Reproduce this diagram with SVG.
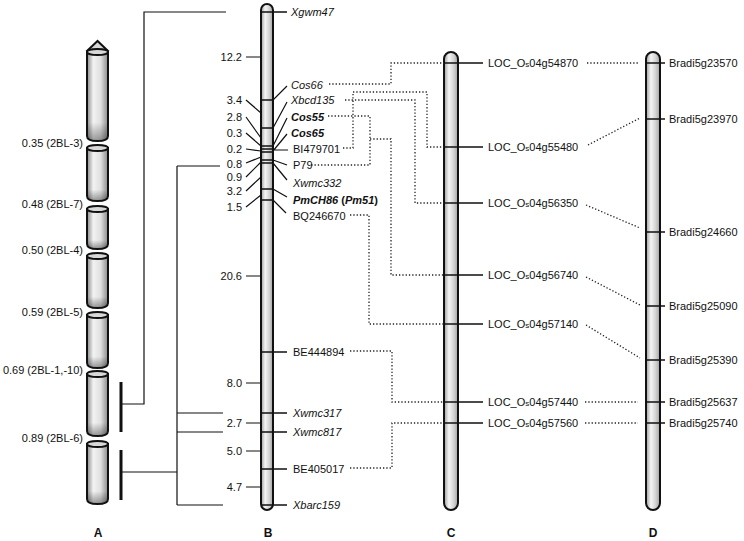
<svg xmlns="http://www.w3.org/2000/svg" width="744" height="541" viewBox="0 0 744 541">
<defs>
<linearGradient id="gB" x1="0" y1="0" x2="1" y2="0">
<stop offset="0" stop-color="#9c9c9c"/><stop offset="0.35" stop-color="#f5f5f5"/><stop offset="0.7" stop-color="#d2d2d2"/><stop offset="1" stop-color="#a0a0a0"/>
</linearGradient>
<linearGradient id="gA" x1="0" y1="0" x2="1" y2="0">
<stop offset="0" stop-color="#8a8a8a"/><stop offset="0.3" stop-color="#f2f2f2"/><stop offset="0.65" stop-color="#e0e0e0"/><stop offset="1" stop-color="#8a8a8a"/>
</linearGradient>
<linearGradient id="gAv" x1="0" y1="0" x2="0" y2="1">
<stop offset="0" stop-color="#000" stop-opacity="0"/><stop offset="0.8" stop-color="#000" stop-opacity="0"/><stop offset="1" stop-color="#000" stop-opacity="0.35"/>
</linearGradient>
</defs>
<style>
text{font-family:"Liberation Sans",Arial,sans-serif;font-size:11px;fill:#111}
.it{font-style:italic}
.bi{font-style:italic;font-weight:bold}
.r{text-anchor:end}
.c{text-anchor:middle}
.ttl{font-weight:bold;font-size:12px;text-anchor:middle}
.chr{fill:url(#gB);stroke:#111;stroke-width:2}
.seg{fill:url(#gA);stroke:#111;stroke-width:2}
.top{fill:#d8d8d8;stroke:#111;stroke-width:2}
.sh{fill:url(#gAv);stroke:none}
.ln{stroke:#111;stroke-width:1.2;fill:none}
.band{stroke:#111;stroke-width:1.4;fill:none}
.dot{stroke:#222;stroke-width:1.3;fill:none;stroke-dasharray:1.3 2}
.bar{stroke:#111;stroke-width:3;fill:none}
.s{font-size:8px}
</style>

<g id="chrA">
<path class="top" d="M97.5 41 L88 50 L107 50 Z"/>
<g>
<path class="seg" d="M87 52 V136 Q87 141 97.5 141 Q108 141 108 136 V52 Z"/><path class="sh" d="M88 52 V136 Q88 140 97.5 140 Q107 140 107 136 V52 Z"/><ellipse class="top" cx="97.5" cy="52" rx="10.5" ry="3"/>
<path class="seg" d="M87 148 V196 Q87 201 97.5 201 Q108 201 108 196 V148 Z"/><path class="sh" d="M88 148 V196 Q88 200 97.5 200 Q107 200 107 196 V148 Z"/><ellipse class="top" cx="97.5" cy="148" rx="10.5" ry="3"/>
<path class="seg" d="M87 209 V244 Q87 249 97.5 249 Q108 249 108 244 V209 Z"/><path class="sh" d="M88 209 V244 Q88 248 97.5 248 Q107 248 107 244 V209 Z"/><ellipse class="top" cx="97.5" cy="209" rx="10.5" ry="3"/>
<path class="seg" d="M87 256 V303 Q87 308 97.5 308 Q108 308 108 303 V256 Z"/><path class="sh" d="M88 256 V303 Q88 307 97.5 307 Q107 307 107 303 V256 Z"/><ellipse class="top" cx="97.5" cy="256" rx="10.5" ry="3"/>
<path class="seg" d="M87 315 V363 Q87 368 97.5 368 Q108 368 108 363 V315 Z"/><path class="sh" d="M88 315 V363 Q88 367 97.5 367 Q107 367 107 363 V315 Z"/><ellipse class="top" cx="97.5" cy="315" rx="10.5" ry="3"/>
<path class="seg" d="M87 374 V431 Q87 436 97.5 436 Q108 436 108 431 V374 Z"/><path class="sh" d="M88 374 V431 Q88 435 97.5 435 Q107 435 107 431 V374 Z"/><ellipse class="top" cx="97.5" cy="374" rx="10.5" ry="3"/>
<path class="seg" d="M87 444 V499 Q87 504 97.5 504 Q108 504 108 499 V444 Z"/><path class="sh" d="M88 444 V499 Q88 503 97.5 503 Q107 503 107 499 V444 Z"/><ellipse class="top" cx="97.5" cy="444" rx="10.5" ry="3"/>
</g>
<text class="r" x="83" y="147">0.35 (2BL-3)</text>
<text class="r" x="83" y="208">0.48 (2BL-7)</text>
<text class="r" x="83" y="254">0.50 (2BL-4)</text>
<text class="r" x="83" y="316">0.59 (2BL-5)</text>
<text class="r" x="83" y="374">0.69 (2BL-1,-10)</text>
<text class="r" x="83" y="442">0.89 (2BL-6)</text>
<line class="bar" x1="121" y1="382" x2="121" y2="432"/>
<line class="bar" x1="121" y1="450" x2="121" y2="500"/>
<text class="ttl" x="98" y="537">A</text>
</g>

<g id="chrB">
<rect class="chr" x="261" y="4" width="12" height="506" rx="6"/>
<path class="band" d="M261 12H287 M261 100H273 M261 128H273 M261 146H273 M261 149H273 M261 152H273 M261 160H273 M261 163H273 M261 189H273 M261 200H273 M261 352H287 M261 413H287 M261 432H287 M261 469H287 M261 505H287"/>
<path class="ln" d="M246 57H261 M246 276H261 M246 383H261 M246 423H261 M246 451H261 M246 487H261"/>
<path class="ln" d="M246 100L261 113 M246 117L261 138 M246 133L261 146 M246 149L261 151 M246 163L261 157 M246 177L261 162 M246 191L261 177 M246 207L261 195"/>
<path class="ln" d="M273 100L287 86 M273 128L287 102 M273 146L287 118 M273 151L287 134 M273 150H288 M273 160L287 165 M273 163L287 180 M273 189L287 197 M273 200L286 213"/>
<text class="r" x="242" y="61">12.2</text>
<text class="r" x="242" y="104">3.4</text>
<text class="r" x="242" y="121">2.8</text>
<text class="r" x="242" y="137">0.3</text>
<text class="r" x="242" y="153">0.2</text>
<text class="r" x="242" y="168">0.8</text>
<text class="r" x="242" y="181">0.9</text>
<text class="r" x="242" y="195">3.2</text>
<text class="r" x="242" y="211">1.5</text>
<text class="r" x="242" y="280">20.6</text>
<text class="r" x="242" y="387">8.0</text>
<text class="r" x="242" y="427">2.7</text>
<text class="r" x="242" y="455">5.0</text>
<text class="r" x="242" y="491">4.7</text>
<text class="it" x="291" y="16">Xgwm47</text>
<text class="it" x="291" y="89">Cos66</text>
<text class="it" x="291" y="104">Xbcd135</text>
<text class="bi" x="291" y="121">Cos55</text>
<text class="bi" x="291" y="137">Cos65</text>
<text x="293" y="153">BI479701</text>
<text x="293" y="169">P79</text>
<text class="it" x="293" y="187">Xwmc332</text>
<text x="293" y="204" font-weight="bold"><tspan class="bi">PmCH86</tspan> (<tspan class="bi">Pm51</tspan>)</text>
<text x="293" y="220">BQ246670</text>
<text x="293" y="356">BE444894</text>
<text class="it" x="293" y="417">Xwmc317</text>
<text class="it" x="293" y="436">Xwmc817</text>
<text x="293" y="473">BE405017</text>
<text class="it" x="293" y="509">Xbarc159</text>
<text class="ttl" x="268" y="537">B</text>
</g>

<g id="chrC">
<rect class="chr" x="444" y="52" width="14" height="458" rx="7"/>
<path class="band" d="M444 63H483 M444 147H483 M444 203H483 M444 275H483 M444 324H483 M444 402H483 M444 423H483"/>
<text x="488" y="67">LOC_O<tspan class="s">s</tspan>04g54870</text>
<text x="488" y="151">LOC_O<tspan class="s">s</tspan>04g55480</text>
<text x="488" y="207">LOC_O<tspan class="s">s</tspan>04g56350</text>
<text x="488" y="279">LOC_O<tspan class="s">s</tspan>04g56740</text>
<text x="488" y="328">LOC_O<tspan class="s">s</tspan>04g57140</text>
<text x="488" y="406">LOC_O<tspan class="s">s</tspan>04g57440</text>
<text x="488" y="427">LOC_O<tspan class="s">s</tspan>04g57560</text>
<text class="ttl" x="451" y="537">C</text>
</g>

<g id="chrD">
<rect class="chr" x="646" y="52" width="14" height="458" rx="7"/>
<path class="band" d="M646 63H665 M646 119H665 M646 232H665 M646 306H665 M646 360H665 M646 402H665 M646 423H665"/>
<text x="669" y="67">Bradi5g23570</text>
<text x="669" y="123">Bradi5g23970</text>
<text x="669" y="236">Bradi5g24660</text>
<text x="669" y="310">Bradi5g25090</text>
<text x="669" y="364">Bradi5g25390</text>
<text x="669" y="406">Bradi5g25637</text>
<text x="669" y="427">Bradi5g25740</text>
<text class="ttl" x="653" y="537">D</text>
</g>

<g id="connectors">
<path class="ln" d="M121 404H144V12H226"/>
<path class="ln" d="M121 472H177 M177 166V505 M177 166H220 M177 413H223 M177 432H223 M177 505H223"/>
<path class="dot" d="M329 84H391V63H444"/>
<path class="dot" d="M345 100H415V203H444"/>
<path class="dot" d="M343 148H353V92H427V147H444"/>
<path class="dot" d="M328 116H370V165H310 M370 139H391V275H444"/>
<path class="dot" d="M350 215H369V324H444"/>
<path class="dot" d="M350 351H392V402H444"/>
<path class="dot" d="M350 468H392V423H444"/>
<path class="dot" d="M587 63H639 M588 145L640 118 M586 205L640 228 M586 277L640 305 M586 325L640 358 M585 402H638 M585 423H638"/>
</g>
</svg>
